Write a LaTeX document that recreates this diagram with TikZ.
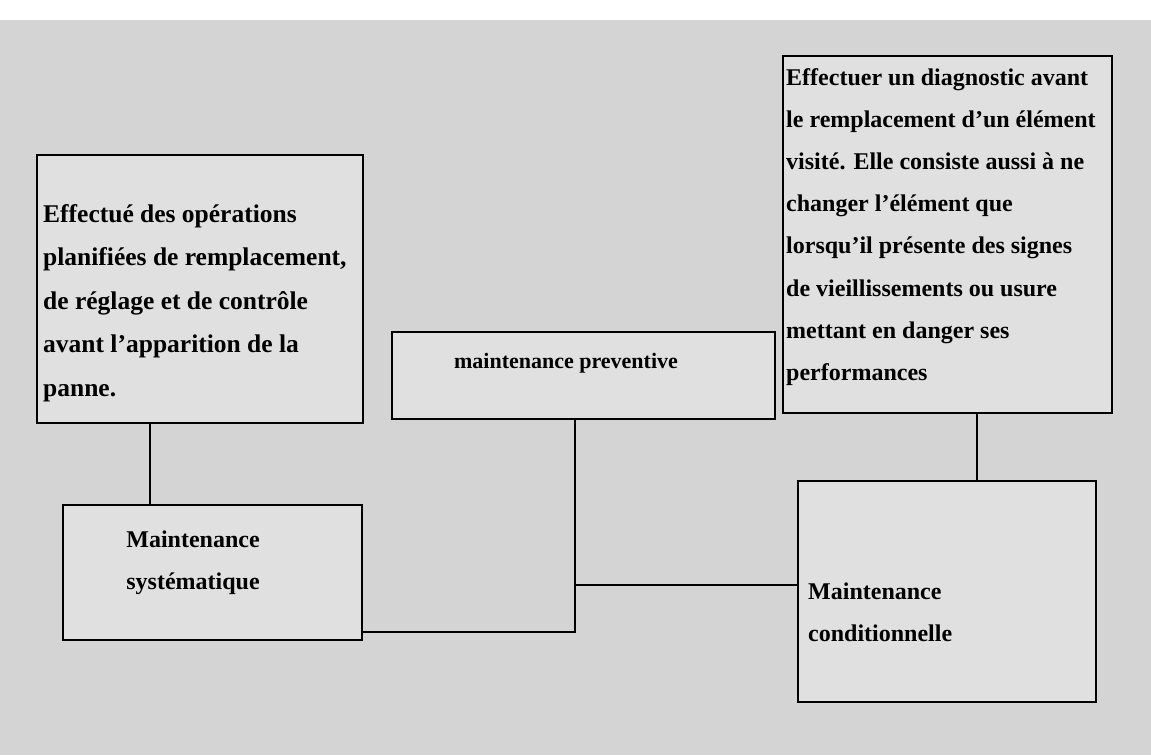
\documentclass[tikz,border=0pt]{standalone}
\usepackage{fontspec}
\setmainfont{Liberation Serif}
\definecolor{bgtone}{gray}{0.83}
\definecolor{boxtone}{gray}{0.88}
\begin{document}
\begin{tikzpicture}[x=1pt,y=-1pt,
  box/.style={draw=black, line width=2.2pt, fill=boxtone, inner sep=0pt},
  conn/.style={draw=black, line width=2.4pt},
  txt/.style={inner sep=0pt, align=left, font=\fontsize{25.5}{43.5}\selectfont\bfseries},
  txtr/.style={inner sep=0pt, align=left, font=\fontsize{24}{42.1}\selectfont\bfseries},
  txtc/.style={inner sep=0pt, align=left, font=\fontsize{24}{42}\selectfont\bfseries}]
\useasboundingbox (0,0) rectangle (1151,755);
\fill[white] (0,0) rectangle (1151,755);
\fill[bgtone] (0,20) rectangle (1151,755);

% boxes
\node[box, minimum width=326pt, minimum height=268pt] (boxA) at (200,289) {};
\node[box, minimum width=383pt, minimum height=87pt] (boxP) at (583.5,375.5) {};
\node[box, minimum width=329pt, minimum height=357pt] (boxT) at (947.5,234.5) {};
\node[box, minimum width=299pt, minimum height=135pt] (boxS) at (212.5,572.5) {};
\node[box, minimum width=298pt, minimum height=221pt] (boxC) at (947,591.5) {};

% texts
\node[txt, anchor=north west] (tA) at (43,204) {Effectué des opérations\\planifiées de remplacement,\\de réglage et de contrôle\\avant l'apparition de la\\panne.};
\node[inner sep=0pt, font=\fontsize{22}{26}\selectfont\bfseries, anchor=base] (tP) at (566,368) {maintenance preventive};
\node[txtr, anchor=north west] (tT) at (786,68.4) {Effectuer un diagnostic avant\\le remplacement d'un élément\\visité. Elle consiste aussi à ne\\changer l'élément que\\lorsqu'il présente des signes\\de vieillissements ou usure\\mettant en danger ses\\performances};
\node[txtc, align=center, anchor=north] (tS) at (193,531) {Maintenance\\systématique};
\node[txtc, anchor=north west] (tC) at (808,583) {Maintenance\\conditionnelle};

% connectors
\coordinate (xa) at (150,0);
\coordinate (xp) at (575,632);
\coordinate (yc) at (575,585);
\coordinate (xt) at (977,0);
\draw[conn] (boxA.south -| xa) -- (boxS.north -| xa);
\draw[conn] (boxP.south -| xp) -- (xp) -- (boxS.east |- xp);
\draw[conn] (yc) -- (boxC.west |- yc);
\draw[conn] (boxT.south -| xt) -- (boxC.north -| xt);
\end{tikzpicture}
\end{document}
